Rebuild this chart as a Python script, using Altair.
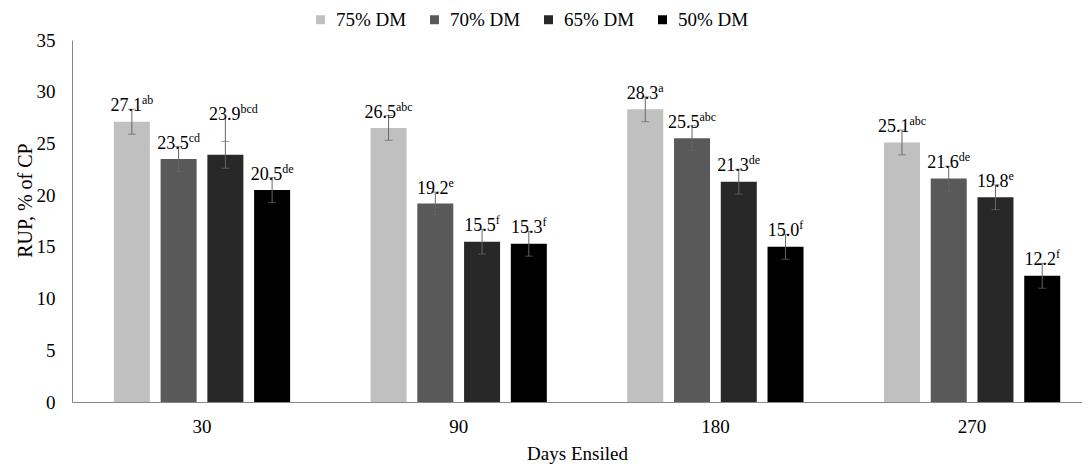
import altair as alt
import pandas as pd

days = ["30", "90", "180", "270"]
series = ["75% DM", "70% DM", "65% DM", "50% DM"]
colors = ["#c0c0c0", "#595959", "#282828", "#000000"]

rup_75 = [27.1, 26.5, 28.3, 25.1]
rup_70 = [23.5, 19.2, 25.5, 21.6]
rup_65 = [23.9, 15.5, 21.3, 19.8]
rup_50 = [20.5, 15.3, 15.0, 12.2]

let_75 = ["ab", "abc", "a", "abc"]
let_70 = ["cd", "e", "abc", "de"]
let_65 = ["bcd", "f", "de", "e"]
let_50 = ["de", "f", "f", "f"]

err_75 = [1.2, 1.2, 1.2, 1.2]
err_70 = [1.2, 1.1, 1.2, 1.2]
err_65 = [1.3, 1.2, 1.2, 1.2]
err_50 = [1.2, 1.2, 1.2, 1.2]

# the 65% DM / day 30 label is lifted and joined to its bar by a leader line
callout_day, callout_series, callout_lift = "30", "65% DM", 2.3

NUM_SIZE, SUP_SIZE = 18, 12
# approximate Times advance widths (em) for width estimates of the label parts
EM = {"a": 0.444, "b": 0.5, "c": 0.444, "d": 0.5, "e": 0.444, "f": 0.333,
      ".": 0.25}

rows = []
for s, vals, lets, errs in zip(series, [rup_75, rup_70, rup_65, rup_50],
                               [let_75, let_70, let_65, let_50],
                               [err_75, err_70, err_65, err_50]):
    for d, v, l, e in zip(days, vals, lets, errs):
        callout = (d == callout_day and s == callout_series)
        num = f"{v:.1f}"
        numw = sum(EM.get(c, 0.5) for c in num) * NUM_SIZE
        supw = sum(EM[c] for c in l) * SUP_SIZE
        rows.append({
            "day": d, "series": s, "value": v,
            "lo": v - e, "hi": v + e,
            "num": num, "sup": l, "numw": numw, "supw": supw,
            "label_y": v + e + (callout_lift if callout else 0),
            "shift": 8 if callout else 0,
            "callout": callout,
        })
df = pd.DataFrame(rows)

FONT = "Liberation Serif"
AXIS_COL = "#868686"
ERR_COL = "#666666"

x = alt.X("day:N", sort=days,
          scale=alt.Scale(paddingInner=0.2715, paddingOuter=0.103, align=0.69),
          axis=alt.Axis(title="Days Ensiled", labelAngle=0, ticks=False,
                        domainColor=AXIS_COL, labelFont=FONT, labelFontSize=19,
                        labelColor="#000", labelPadding=15, titleFont=FONT,
                        titleFontSize=19, titleFontWeight="normal",
                        titleColor="#000", titlePadding=8))
xo = alt.XOffset("series:N", sort=series,
                 scale=alt.Scale(paddingInner=0.23, paddingOuter=0.115))

base = alt.Chart(df)

bars = base.mark_bar().encode(
    x=x, xOffset=xo,
    y=alt.Y("value:Q", scale=alt.Scale(domain=[0, 35]),
            axis=alt.Axis(values=[0, 5, 10, 15, 20, 25, 30, 35], grid=False, ticks=False,
                          domainColor=AXIS_COL, labelFont=FONT, labelFontSize=19,
                          labelColor="#000", labelPadding=17, title="RUP, % of CP",
                          titleFont=FONT, titleFontSize=20, titleFontWeight="normal",
                          titleColor="#000", titlePadding=1, titleY=160)),
    color=alt.Color("series:N", sort=series,
                    scale=alt.Scale(domain=series, range=colors),
                    legend=alt.Legend(title=None, orient="none", direction="horizontal",
                                      legendX=239, legendY=-30, symbolType="square",
                                      symbolSize=81, symbolStrokeWidth=0,
                                      labelFont=FONT, labelFontSize=19, labelColor="#000",
                                      columnPadding=18, labelOffset=6)),
)

stems = base.mark_rule(color=ERR_COL, strokeWidth=1).encode(
    x=x, xOffset=xo, y="lo:Q", y2="hi:Q")
caps_lo = base.mark_tick(color=ERR_COL, thickness=1, size=8, orient="horizontal").encode(
    x=x, xOffset=xo, y="lo:Q")
caps_hi = base.mark_tick(color=ERR_COL, thickness=1, size=8, orient="horizontal").encode(
    x=x, xOffset=xo, y="hi:Q")

leader = base.transform_filter("datum.callout").mark_rule(
    color=ERR_COL, strokeWidth=1).encode(
    x=x, xOffset=xo, y="hi:Q", y2=alt.Y2("label_y:Q"))

num_labels = base.mark_text(
    font=FONT, fontSize=NUM_SIZE, baseline="alphabetic", align="center", dy=2,
    dx={"expr": "datum.shift - datum.supw / 2"}, color="#000").encode(
    x=x, xOffset=xo, y="label_y:Q", text="num:N")
sup_labels = base.mark_text(
    font=FONT, fontSize=SUP_SIZE, baseline="alphabetic", align="left", dy=-5,
    dx={"expr": "datum.shift + (datum.numw - datum.supw) / 2"}, color="#000").encode(
    x=x, xOffset=xo, y="label_y:Q", text="sup:N")

chart = alt.layer(bars, stems, caps_lo, caps_hi, leader, num_labels, sup_labels).properties(
    width=1010, height=362,
    padding={"left": 7, "right": 0, "top": 2, "bottom": 2},
).configure(font=FONT).configure_axis(
    labelFont=FONT, titleFont=FONT
).configure_legend(labelFont=FONT).configure_view(stroke=None)

chart.save("out.html", embed_options={"renderer": "svg", "actions": False})
